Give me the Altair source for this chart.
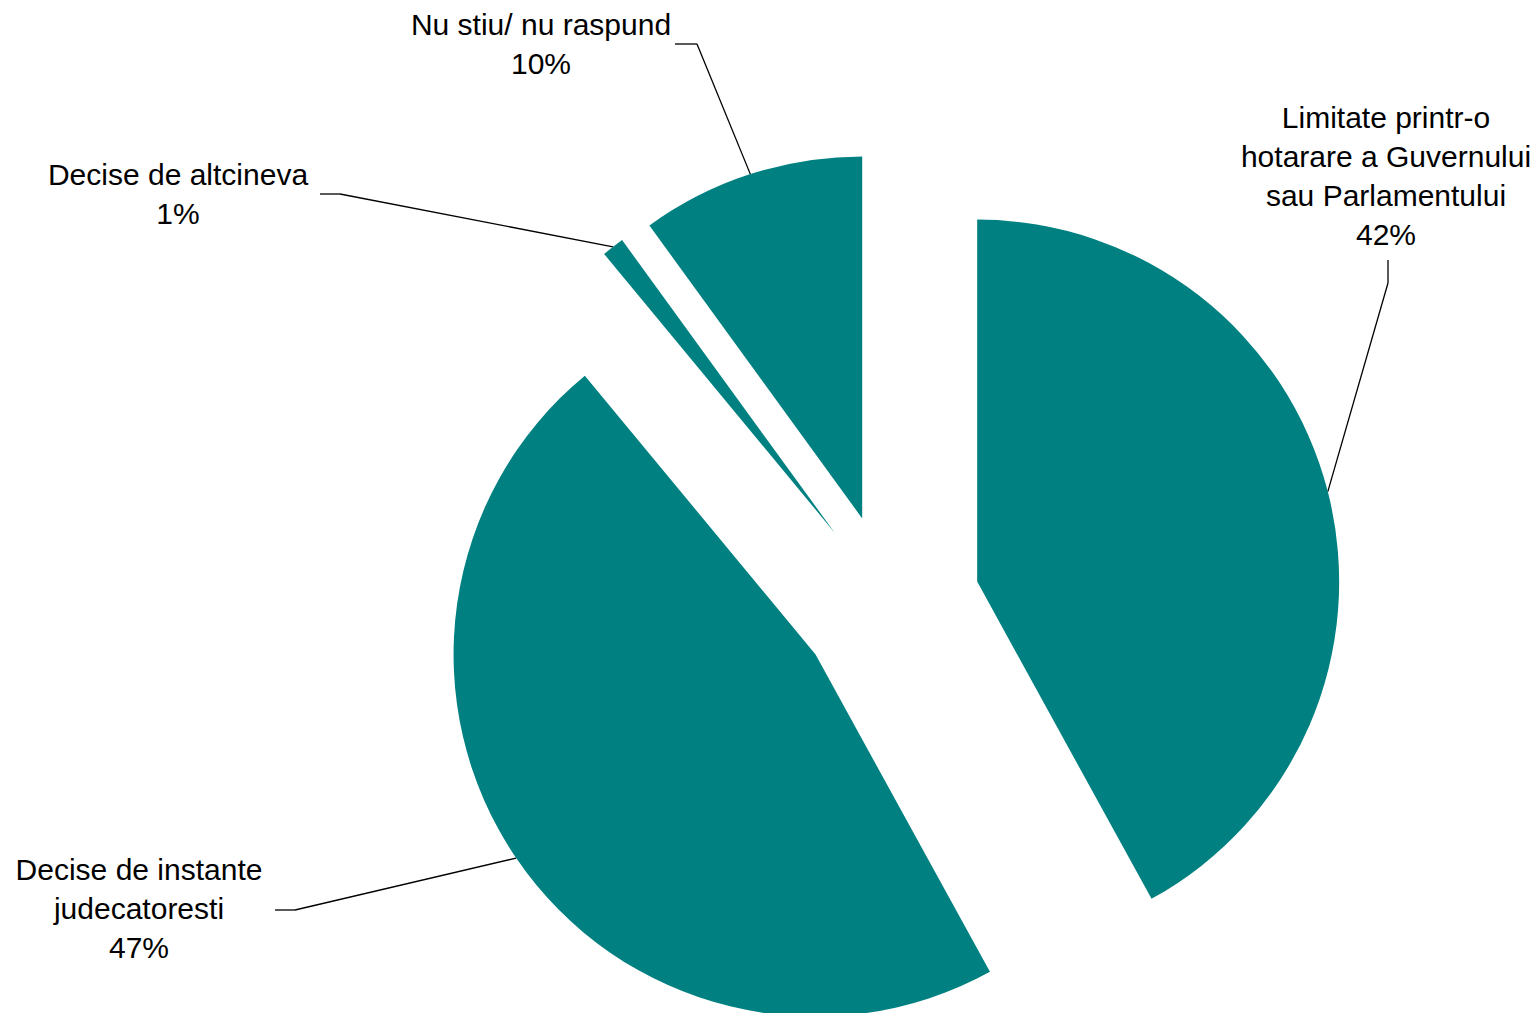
import math
import altair as alt
import pandas as pd

# ---- data ----
categories = [
    "Limitate printr-o\nhotarare a Guvernului\nsau Parlamentului",
    "Decise de instante\njudecatoresti",
    "Decise de altcineva",
    "Nu stiu/ nu raspund",
]
values = [42, 47, 1, 10]

# ---- layout (pixels, plot coordinates) ----
CX, CY = 882, 596       # pie centre
R = 362                 # radius
D = 90                  # explosion distance
label_x = [1378, 131, 170, 533]
label_y = [120, 872, 177, 27]
elbow_x = [1380, 287, 332, 689]
elbow_y = [275, 902, 186, 36]
tail_x = [1380, 267, 312, 667]
tail_y = [252, 902, 186, 36]

df = pd.DataFrame({
    "cat": categories,
    "value": values,
    "order": list(range(len(values))),
    "lx": label_x, "ly": label_y,
    "ex": elbow_x, "ey": elbow_y,
    "tx": tail_x, "ty": tail_y,
})

base = alt.Chart(df).transform_window(
    cum="sum(value)", sort=[alt.SortField("order")], frame=[None, 0]
).transform_calculate(
    t0="datum.cum - datum.value",
    mid="(datum.cum - datum.value / 2) / 100 * 2 * PI",
).transform_calculate(
    ax=f"{CX} + {D} * sin(datum.mid)",
    ay=f"{CY} - {D} * cos(datum.mid)",
).transform_calculate(
    sx=f"datum.ax + {R} * sin(datum.mid)",
    sy=f"datum.ay - {R} * cos(datum.mid)",
    label="datum.cat + '\\n' + datum.value + '%'",
)

arcs = base.mark_arc(color="#008080", outerRadius=R, innerRadius=0).encode(
    x=alt.X("ax:Q", scale=None),
    y=alt.Y("ay:Q", scale=None),
    theta=alt.Theta("t0:Q", scale=alt.Scale(domain=[0, 100], range=[0, 2 * math.pi]), stack=None),
    theta2=alt.Theta2("cum:Q"),
)

lead1 = base.mark_rule(color="black", strokeWidth=1.3).encode(
    x=alt.X("sx:Q", scale=None),
    y=alt.Y("sy:Q", scale=None),
    x2="ex:Q",
    y2="ey:Q",
)
lead2 = base.mark_rule(color="black", strokeWidth=1.3).encode(
    x=alt.X("ex:Q", scale=None),
    y=alt.Y("ey:Q", scale=None),
    x2="tx:Q",
    y2="ty:Q",
)

labels = base.mark_text(
    align="center", baseline="alphabetic", fontSize=30,
    font="Liberation Sans", lineBreak="\n", lineHeight=39, color="black",
).encode(
    x=alt.X("lx:Q", scale=None),
    y=alt.Y("ly:Q", scale=None),
    text="label:N",
)

chart = alt.layer(lead1, lead2, arcs, labels).properties(
    width=1523, height=1005, autosize="none", padding=0
).configure_view(stroke=None)

chart.save("out.html", embed_options={"renderer": "svg", "actions": False})
